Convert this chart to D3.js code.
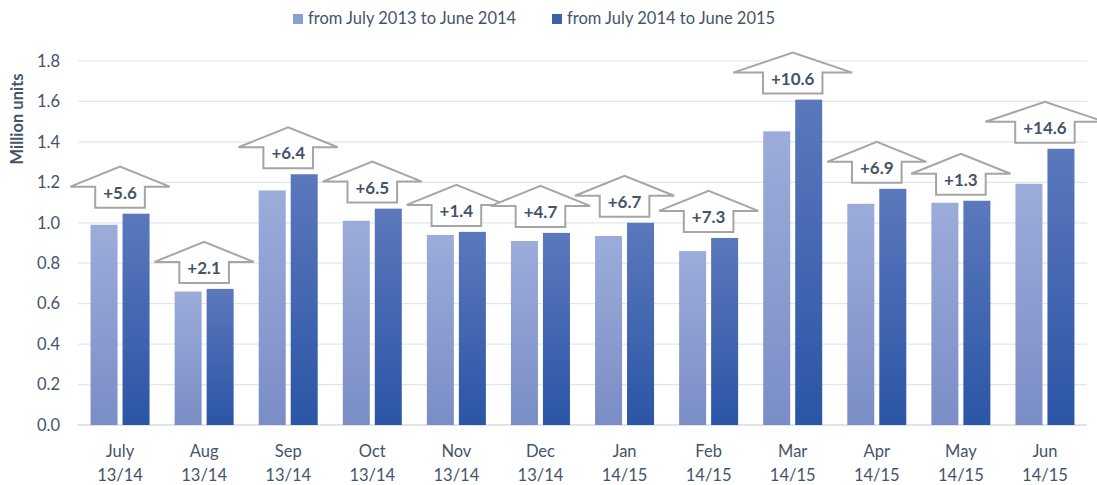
<!DOCTYPE html>
<html>
<head>
<meta charset="utf-8">
<script src="https://cdn.jsdelivr.net/npm/d3@7"></script>
<style>
  body { margin: 0; background: #fff; }
  svg { display: block; font-family: Lato, "Open Sans", sans-serif; }
</style>
</head>
<body>
<div id="chart"></div>
<script>
// Monthly sales, two seasons compared, with growth arrows

const months = ['July', 'Aug', 'Sep', 'Oct', 'Nov', 'Dec', 'Jan', 'Feb', 'Mar', 'Apr', 'May', 'Jun'];
const seasons = ['13/14', '13/14', '13/14', '13/14', '13/14', '13/14', '14/15', '14/15', '14/15', '14/15', '14/15', '14/15'];
const seriesNames = ['from July 2013 to June 2014', 'from July 2014 to June 2015'];
const prevYear = [0.99, 0.66, 1.16, 1.01, 0.94, 0.91, 0.935, 0.86, 1.452, 1.094, 1.099, 1.193];
const currYear = [1.045, 0.673, 1.24, 1.07, 0.955, 0.95, 1.0, 0.925, 1.609, 1.168, 1.109, 1.366];
const growth = ['+5.6', '+2.1', '+6.4', '+6.5', '+1.4', '+4.7', '+6.7', '+7.3', '+10.6', '+6.9', '+1.3', '+14.6'];
const yTicks = [0, 0.2, 0.4, 0.6, 0.8, 1.0, 1.2, 1.4, 1.6, 1.8];

const totalWidth = 1097;
const totalHeight = 485;
const margin = { top: 61, right: 10, bottom: 60, left: 78 };
const width = totalWidth - margin.left - margin.right;
const height = totalHeight - margin.top - margin.bottom;
const textColor = '#44546a';

const data = months.map((m, i) => ({ key: m + i, month: m, season: seasons[i], values: [prevYear[i], currYear[i]], growth: growth[i] }));

const svgRoot = d3.select('#chart')
    .append('svg')
    .attr('width', totalWidth)
    .attr('height', totalHeight);

// gradients for the two series
const defs = svgRoot.append('defs');
const gradients = [
    { id: 'grad-prev', top: '#9cacda', bottom: '#7a8dc6' },
    { id: 'grad-curr', top: '#5b78bc', bottom: '#2b55a6' }
];
gradients.forEach(g => {
    const lg = defs.append('linearGradient')
        .attr('id', g.id)
        .attr('x1', 0).attr('y1', 0).attr('x2', 0).attr('y2', 1);
    lg.append('stop').attr('offset', '0%').attr('stop-color', g.top);
    lg.append('stop').attr('offset', '100%').attr('stop-color', g.bottom);
});

const svg = svgRoot.append('g')
    .attr('transform', `translate(${margin.left},${margin.top})`);

// Scales
const x0 = d3.scaleBand()
    .domain(data.map(d => d.key))
    .range([0, width])
    .padding(0);

const groupWidth = 59;
const x1 = d3.scaleBand()
    .domain([0, 1])
    .range([0, groupWidth])
    .paddingInner(0.156);

const y = d3.scaleLinear()
    .domain([0, 1.8])
    .range([height, 0]);

// Grid lines
svg.append('g')
    .attr('class', 'grid')
    .selectAll('line')
    .data(yTicks)
    .enter()
    .append('line')
    .attr('x1', 0)
    .attr('x2', width)
    .attr('y1', d => y(d))
    .attr('y2', d => y(d))
    .style('stroke', d => d === 0 ? '#d5dae3' : '#e2e6ec')
    .style('stroke-width', d => d === 0 ? 1.5 : 1.2);

// Y axis labels
svg.append('g')
    .call(d3.axisLeft(y).tickValues(yTicks).tickSize(0).tickPadding(18).tickFormat(d3.format('.1f')))
    .call(g => g.select('.domain').remove())
    .call(g => g.selectAll('text')
        .style('font-family', 'Lato, "Open Sans", sans-serif')
        .style('font-size', '16.5px')
        .style('fill', textColor));

// Y axis title
svg.append('text')
    .attr('transform', 'rotate(-90)')
    .attr('x', -(119 - margin.top))
    .attr('y', -55)
    .attr('text-anchor', 'middle')
    .style('font-size', '16.5px')
    .style('font-weight', 'bold')
    .style('fill', textColor)
    .text('Million units');

// Bars
const groups = svg.append('g')
    .selectAll('g')
    .data(data)
    .enter()
    .append('g')
    .attr('transform', d => `translate(${x0(d.key) + (x0.bandwidth() - groupWidth) / 2},0)`);

groups.selectAll('rect')
    .data(d => d.values.map((v, i) => ({ i, v })))
    .enter()
    .append('rect')
    .attr('x', d => x1(d.i))
    .attr('width', x1.bandwidth())
    .attr('y', d => y(d.v))
    .attr('height', d => y(0) - y(d.v))
    .style('fill', d => `url(#${gradients[d.i].id})`);

// X axis labels
const xLabels = svg.append('g')
    .attr('transform', `translate(0,${height})`);

xLabels.selectAll('.month')
    .data(data)
    .enter()
    .append('text')
    .attr('x', d => x0(d.key) + x0.bandwidth() / 2)
    .attr('y', 32)
    .attr('text-anchor', 'middle')
    .style('font-size', '16.5px')
    .style('fill', textColor)
    .text(d => d.month);

xLabels.selectAll('.season')
    .data(data)
    .enter()
    .append('text')
    .attr('x', d => x0(d.key) + x0.bandwidth() / 2)
    .attr('y', 56)
    .attr('text-anchor', 'middle')
    .style('font-size', '16.5px')
    .style('fill', textColor)
    .text(d => d.season);

// Growth arrows
const arrows = svg.append('g')
    .selectAll('g')
    .data(data)
    .enter()
    .append('g')
    .attr('transform', d => `translate(${x0(d.key) + x0.bandwidth() / 2},${y(d3.max(d.values)) - 6})`);

arrows.append('text')
    .attr('x', 0)
    .attr('y', -9)
    .attr('text-anchor', 'middle')
    .style('font-size', '17px')
    .style('font-weight', 'bold')
    .style('fill', textColor)
    .text(d => d.growth);

arrows.each(function() {
    const g = d3.select(this);
    const tw = g.select('text').node().getComputedTextLength();
    const bw = tw + 16;
    const wing = bw / 2;
    const boxH = 21;
    const headH = 20;
    const pts = [
        [-bw / 2, 0], [bw / 2, 0], [bw / 2, -boxH], [bw / 2 + wing, -boxH],
        [0, -boxH - headH], [-bw / 2 - wing, -boxH], [-bw / 2, -boxH]
    ];
    g.insert('path', 'text')
        .attr('d', d3.line()(pts) + 'Z')
        .style('fill', '#fff')
        .style('stroke', '#a5a5a5')
        .style('stroke-width', 2)
        .style('stroke-linejoin', 'miter');
});

// Legend
const legend = svgRoot.append('g')
    .attr('transform', 'translate(293,0)');

const legendItems = legend.selectAll('g')
    .data(seriesNames)
    .enter()
    .append('g')
    .attr('transform', (d, i) => `translate(${i * 259},0)`);

legendItems.append('rect')
    .attr('x', 0)
    .attr('y', 14)
    .attr('width', 10)
    .attr('height', 10)
    .style('fill', (d, i) => i === 0 ? '#8c9fd3' : '#3c5fae');

legendItems.append('text')
    .attr('x', 15)
    .attr('y', 24)
    .style('font-size', '16.5px')
    .style('fill', textColor)
    .text(d => d);
</script>
</body>
</html>
